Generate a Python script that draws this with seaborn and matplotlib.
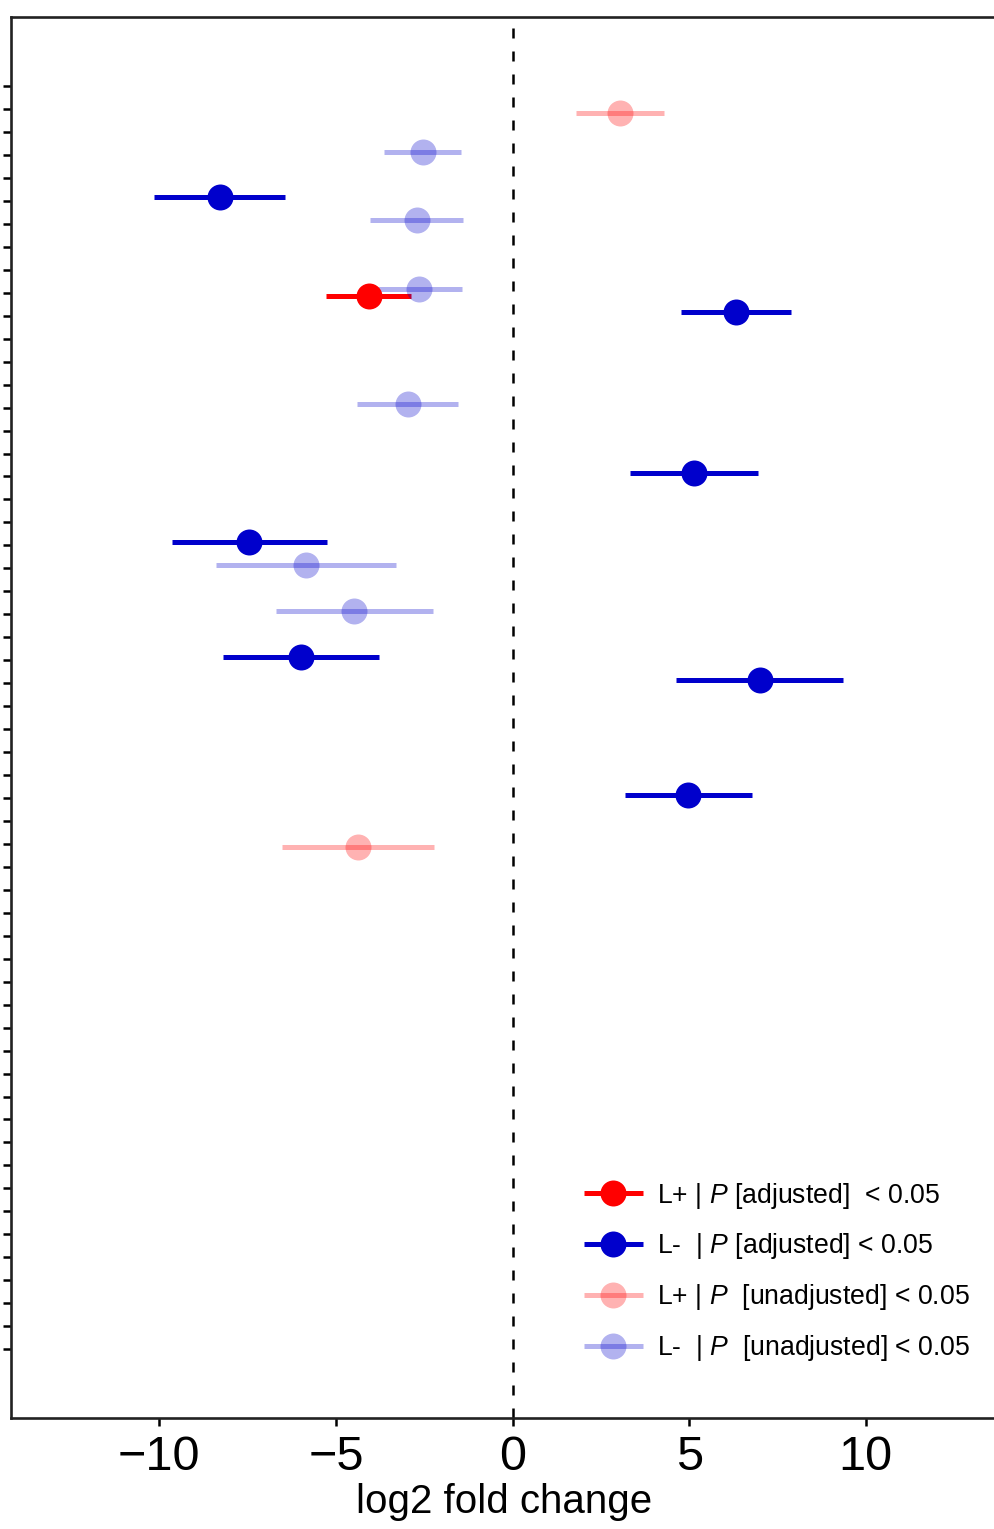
import matplotlib
matplotlib.use("Agg")
import matplotlib.pyplot as plt
from matplotlib.lines import Line2D
from matplotlib import font_manager
import seaborn as sns
import pandas as pd
import numpy as np

# ---------------- data ----------------
n_rows = 56  # number of tested rows (ticks on the y axis, unlabeled)

lp_adj_row = [9]
lp_adj_lfc = [-4.07]
lp_adj_lo = [-5.28]
lp_adj_hi = [-2.86]

lm_adj_row = [5, 10, 17, 20, 25, 26, 31]
lm_adj_lfc = [-8.29, 6.32, 5.14, -7.46, -6.00, 7.00, 4.97]
lm_adj_lo = [-10.15, 4.76, 3.34, -9.65, -8.21, 4.64, 3.19]
lm_adj_hi = [-6.44, 7.89, 6.95, -5.25, -3.78, 9.35, 6.78]

lp_unadj_row = [1, 33]
lp_unadj_lfc = [3.05, -4.38]
lp_unadj_lo = [1.80, -6.52]
lp_unadj_hi = [4.29, -2.22]

lm_unadj_row = [3, 6, 9, 14, 21, 23]
lm_unadj_lfc = [-2.54, -2.71, -2.66, -2.97, -5.85, -4.49]
lm_unadj_lo = [-3.63, -4.04, -3.82, -4.41, -8.40, -6.70]
lm_unadj_hi = [-1.47, -1.40, -1.43, -1.53, -3.29, -2.26]

groups = ["L+ adj", "L- adj", "L+ unadj", "L- unadj"]
labels = [
    r"L+ | $\mathit{P}$ [adjusted]  < 0.05",
    r"L-  | $\mathit{P}$ [adjusted] < 0.05",
    r"L+ | $\mathit{P}$  [unadjusted] < 0.05",
    r"L-  | $\mathit{P}$  [unadjusted] < 0.05",
]
xticks = [-10, -5, 0, 5, 10]

# ---------------- styling ----------------
RED = "#FF0000"
BLUE = "#0000CC"
colors = {"L+ adj": RED, "L- adj": BLUE, "L+ unadj": RED, "L- unadj": BLUE}
alphas = {"L+ adj": 1.0, "L- adj": 1.0, "L+ unadj": 0.3, "L- unadj": 0.3}
dodge = {"L+ adj": 0.15, "L- adj": -0.15, "L+ unadj": 0.15, "L- unadj": -0.15}

frames = []
for g, r, v, lo, hi in [
    ("L+ adj", lp_adj_row, lp_adj_lfc, lp_adj_lo, lp_adj_hi),
    ("L- adj", lm_adj_row, lm_adj_lfc, lm_adj_lo, lm_adj_hi),
    ("L+ unadj", lp_unadj_row, lp_unadj_lfc, lp_unadj_lo, lp_unadj_hi),
    ("L- unadj", lm_unadj_row, lm_unadj_lfc, lm_unadj_lo, lm_unadj_hi),
]:
    frames.append(pd.DataFrame({"group": g, "row": r, "lfc": v, "lo": lo, "hi": hi}))
df = pd.concat(frames, ignore_index=True)
df["y"] = df["row"] + df["group"].map(dodge)

sns.set_style("white")


def have(name):
    try:
        font_manager.findfont(name, fallback_to_default=False)
        return True
    except Exception:
        return False


narrow = "Liberation Sans Narrow" if have("Liberation Sans Narrow") else "Liberation Sans"
plt.rcParams["font.family"] = ["Liberation Sans", "DejaVu Sans"]
plt.rcParams["mathtext.fontset"] = "custom"
plt.rcParams["mathtext.rm"] = "Liberation Sans"
plt.rcParams["mathtext.it"] = "Liberation Sans:italic"
plt.rcParams["text.color"] = "black"
plt.rcParams["axes.labelcolor"] = "black"
plt.rcParams["xtick.color"] = "black"
plt.rcParams["ytick.color"] = "black"

W, H = 994, 1529
fig = plt.figure(figsize=(W / 100, H / 100), dpi=100)
ax = fig.add_axes([11 / W, 1 - 1418 / H, (1014 - 11) / W, (1418 - 17) / H])

ax.axvline(0, color="black", lw=1.8, dashes=(4, 5.2), zorder=1)

MS = 350  # marker area (pt^2)
LW = 3.6
for g in groups:
    sub = df[df["group"] == g]
    ax.hlines(sub["y"], sub["lo"], sub["hi"], colors=colors[g], alpha=alphas[g],
              linewidth=LW, capstyle="butt", zorder=2)
    sns.scatterplot(data=sub, x="lfc", y="y", color=colors[g], alpha=alphas[g],
                    s=MS, linewidth=0, ax=ax, legend=False, zorder=3)

ax.set_xlim(-14.2, 14.2)
ax.set_ylim(58.0, -3.01)
ax.set_yticks(np.arange(n_rows))
ax.set_yticklabels([])
ax.set_xticks(xticks)
ax.set_xticklabels([f"\u2212{abs(t)}" if t < 0 else str(t) for t in xticks],
                   fontfamily=narrow, fontsize=35, color="black")
ax.set_ylabel("")
ax.set_xlabel("log2 fold change", fontfamily=narrow, fontsize=29, color="black")
ax.xaxis.set_label_coords((504.5 - 11) / (1014 - 11), -(1521 - 1418) / (1418 - 17),
                          transform=ax.transAxes)
ax.xaxis.label.set_va("bottom")

ax.tick_params(axis="y", length=6, width=1.8, color="black", left=True, pad=0)
ax.tick_params(axis="x", length=6, width=1.8, color="black", bottom=True, pad=6,
               labelcolor="black")
for s in ax.spines.values():
    s.set_color("#222222")
    s.set_linewidth(1.9)
    s.set_visible(True)

handles = []
for g in groups:
    handles.append(Line2D([0], [0], color=colors[g], alpha=alphas[g], lw=LW,
                          marker="o", markersize=np.sqrt(MS), markeredgewidth=0,
                          solid_capstyle="butt"))
leg = ax.legend(handles, labels, loc="lower left", frameon=False, fontsize=19.2,
                handlelength=2.21, handletextpad=0.52, labelspacing=0.78,
                borderpad=0, borderaxespad=0, labelcolor="black",
                bbox_to_anchor=(584 / W, 1 - 1363 / H), bbox_transform=fig.transFigure)

fig.savefig("out.png", dpi=100)
